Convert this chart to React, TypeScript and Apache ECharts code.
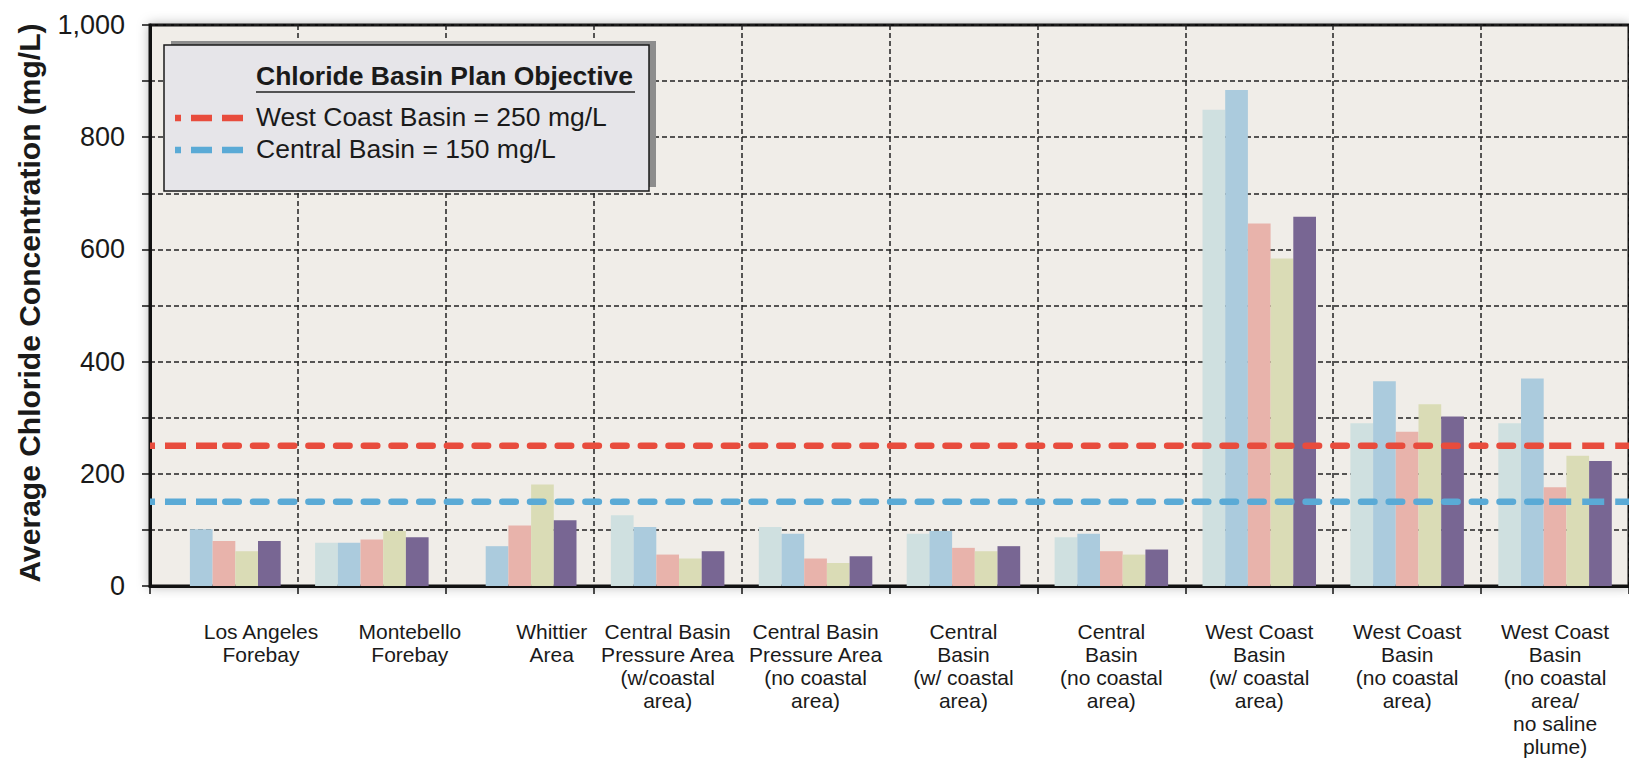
import React, { useEffect, useRef } from 'react';
import * as echarts from 'echarts';

const categories = [
  'Los Angeles\nForebay',
  'Montebello\nForebay',
  'Whittier\nArea',
  'Central Basin\nPressure Area\n(w/coastal\narea)',
  'Central Basin\nPressure Area\n(no coastal\narea)',
  'Central\nBasin\n(w/ coastal\narea)',
  'Central\nBasin\n(no coastal\narea)',
  'West Coast\nBasin\n(w/ coastal\narea)',
  'West Coast\nBasin\n(no coastal\narea)',
  'West Coast\nBasin\n(no coastal\narea/\nno saline\nplume)',
];

const seriesNames = ['Series 1', 'Series 2', 'Series 3', 'Series 4', 'Series 5'];
const series1 = [null, 77, null, 126, 105, 93, 87, 849, 290, 290];
const series2 = [101, 77, 71, 105, 93, 98, 93, 884, 365, 370];
const series3 = [80, 83, 108, 56, 49, 68, 62, 646, 275, 176];
const series4 = [62, 98, 181, 49, 41, 62, 56, 584, 324, 232];
const series5 = [80, 87, 117, 62, 53, 71, 65, 658, 302, 223];
const seriesColors = ['#cfe0e0', '#abcbdd', '#e8b3ab', '#dadcb6', '#786693'];

const yMin = 0;
const yMax = 1000;
const yInterval = 100;
const yLabelStep = 200;

const objectiveNames = ['West Coast Basin = 250 mg/L', 'Central Basin = 150 mg/L'];
const objectiveValues = [250, 150];
const objectiveColors = ['#e84c3d', '#5aaad6'];
const legendTitle = 'Chloride Basin Plan Objective';
const yAxisTitle = 'Average Chloride Concentration (mg/L)';

// per-category label shift (px) for the first labels
const labelShift = [74, 76, 64, 0, 0, 0, 0, 0, 0, 0];

const FONT = "'Liberation Sans', Arial, Helvetica, sans-serif";

export default function App() {
  const ref = useRef<HTMLDivElement>(null);
  useEffect(() => {
    document.body.style.margin = '0';
    const chart = echarts.init(ref.current!, undefined, { renderer: 'svg' });
    const gridLeft = 150;
    const gridTop = 25;
    const gridW = 1483;
    const gridH = 561;
    const catW = gridW / categories.length;
    const toUnit = (px: number) => (px - gridLeft) / catW;

    const barData = [series1, series2, series3, series4, series5];
    const bars = barData.map((d, i) => ({
      name: seriesNames[i],
      type: 'bar',
      data: d,
      barWidth: 22.7,
      barGap: '0%',
      itemStyle: { color: seriesColors[i] },
      z: 3,
    }));

    const lines: any[] = [];
    objectiveValues.forEach((v, i) => {
      const c = objectiveColors[i];
      const seg = (x0: number, x1: number, type: number[], cap: string, offset: number) => ({
        name: objectiveNames[i],
        type: 'line',
        xAxisIndex: 1,
        yAxisIndex: 0,
        data: [[toUnit(x0), v], [toUnit(x1), v]],
        symbol: 'none',
        silent: true,
        z: 6,
        lineStyle: { color: c, width: 6.5, type, cap, dashOffset: offset },
      });
      lines.push(seg(gridLeft, 218, [21, 10], 'butt', 16));
      lines.push(seg(225.5, 1549, [13.5, 14.2], 'round', 0));
      lines.push(seg(1553, gridLeft + gridW, [22, 11], 'butt', 0));
    });

    const graphics: any[] = [
      {
        type: 'text',
        x: 29,
        y: 303,
        rotation: Math.PI / 2,
        style: {
          text: yAxisTitle,
          font: `bold 30px ${FONT}`,
          fill: '#1a1a1a',
          textAlign: 'center',
          textVerticalAlign: 'middle',
        },
        z: 10,
      },
      { type: 'rect', shape: { x: 171, y: 41, width: 485, height: 146 }, style: { fill: '#8d8d8d' }, z: 20 },
      {
        type: 'rect',
        shape: { x: 164, y: 45, width: 485, height: 146 },
        style: { fill: '#e6e5e9', stroke: '#1a1a1a', lineWidth: 1.5 },
        z: 21,
      },
      {
        type: 'text',
        x: 256,
        y: 76,
        style: { text: legendTitle, font: `bold 26.5px ${FONT}`, fill: '#1a1a1a', textVerticalAlign: 'middle' },
        z: 22,
      },
      { type: 'line', shape: { x1: 256, y1: 92, x2: 635, y2: 92 }, style: { stroke: '#222', lineWidth: 1.5 }, z: 22 },
    ];
    objectiveNames.forEach((n, i) => {
      const ty = [117, 149][i];
      const sy = [118, 150][i];
      graphics.push({
        type: 'line',
        shape: { x1: 175, y1: sy, x2: 244, y2: sy },
        style: { stroke: objectiveColors[i], lineWidth: 6.5, lineDash: [21, 10], lineDashOffset: 15 },
        z: 22,
      });
      graphics.push({
        type: 'text',
        x: 256,
        y: ty,
        style: { text: n, font: `26.5px ${FONT}`, fill: '#1a1a1a', textVerticalAlign: 'middle' },
        z: 22,
      });
    });

    chart.setOption({
      animation: false,
      backgroundColor: '#ffffff',
      grid: {
        left: gridLeft,
        top: gridTop,
        width: gridW,
        height: gridH,
        show: true,
        backgroundColor: '#f0ede8',
        borderColor: '#111',
        borderWidth: 3,
        shadowBlur: 12,
        shadowColor: 'rgba(0,0,0,0.28)',
      },
      xAxis: [
        {
          type: 'category',
          data: categories.map((c, i) => ({
            value: c,
            textStyle: { padding: [0, 0, 0, labelShift[i]] },
          })),
          axisLine: { lineStyle: { color: '#111', width: 3 } },
          axisTick: { show: true, length: 8, lineStyle: { color: '#111', width: 1.5 } },
          axisLabel: {
            interval: 0,
            margin: 34,
            fontSize: 21,
            lineHeight: 23,
            color: '#1a1a1a',
            fontFamily: FONT,
            align: 'center',
          },
          splitLine: { show: true, interval: 0, lineStyle: { color: '#222', width: 1.5, type: [5, 3] } },
        },
        { type: 'value', min: 0, max: categories.length, show: false },
      ],
      yAxis: {
        type: 'value',
        min: yMin,
        max: yMax,
        interval: yInterval,
        axisLine: { show: true, lineStyle: { color: '#111', width: 3 } },
        axisTick: { show: true, length: 8, lineStyle: { color: '#111', width: 1.5 } },
        axisLabel: {
          margin: 25,
          fontSize: 27,
          color: '#1a1a1a',
          fontFamily: FONT,
          formatter: (v: number) => (v % yLabelStep === 0 ? v.toLocaleString('en-US') : ''),
        },
        splitLine: { show: true, lineStyle: { color: '#222', width: 1.5, type: [5, 3] } },
      },
      series: [...bars, ...lines],
      graphic: graphics,
    });
    return () => chart.dispose();
  }, []);
  return <div ref={ref} style={{ width: 1629, height: 762 }} />;
}
